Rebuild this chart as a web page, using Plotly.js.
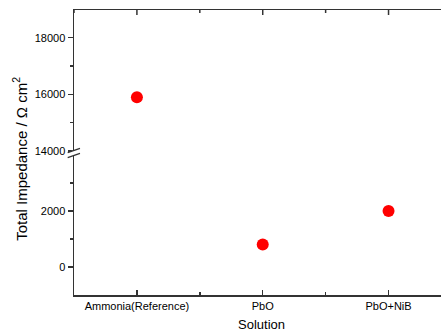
<!DOCTYPE html>
<html>
<head>
<meta charset="utf-8">
<script src="https://cdn.plot.ly/plotly-3.0.1.min.js"></script>
<style>html,body{margin:0;padding:0;background:#fff;}#chart{width:441px;height:332px;}</style>
</head>
<body>
<div id="chart"></div>
<script>
// Data
const categories = ["Ammonia(Reference)", "PbO", "PbO+NiB"];
const impedance = [15900, 800, 2000];
const breakValue = 10000;
const lowerTicks = [0, 2000];
const lowerMinorTicks = [1000, 3000];
const upperTicks = [14000, 16000, 18000];
const upperMinorTicks = [15000, 17000];

const idx = categories.map((_, i) => i);
const lowerY = impedance.map(v => v < breakValue ? v : null);
const upperY = impedance.map(v => v >= breakValue ? v : null);

const font = "Liberation Sans, Arial, sans-serif";
const lineColor = "#333";
const marker = {color: "#ff0000", size: 12, line: {width: 0}};

const traces = [
  {x: idx, y: lowerY, xaxis: "x", yaxis: "y", mode: "markers", marker: marker, hoverinfo: "skip"},
  {x: idx, y: upperY, xaxis: "x2", yaxis: "y2", mode: "markers", marker: marker, hoverinfo: "skip"}
];

const xRange = [-0.5, 2.417];
const xMinor = [-0.5, 0.5, 1.5, 2.5];
const split = 0.5053;
const plotHeight = 332 - 10 - 37;

function yAxisDef(anchor, domain, range, ticks, minorTicks) {
  return {
    anchor: anchor, domain: domain, range: range,
    tickmode: "array", tickvals: ticks, tickformat: "d",
    ticks: "outside", ticklen: 5, tickwidth: 1.5, tickcolor: lineColor,
    minor: {tickmode: "array", tickvals: minorTicks, ticks: "outside", ticklen: 3, tickwidth: 1.5, tickcolor: lineColor},
    showline: true, linecolor: lineColor, linewidth: 1.5,
    showgrid: false, zeroline: false,
    tickfont: {family: font, size: 11, color: "#000"}
  };
}

// top-axis tick marks (mirrors of the x ticks), converted to paper fractions with the x range
const toPaper = v => (v - xRange[0]) / (xRange[1] - xRange[0]);
const tickShape = (v, len) => ({type: "line", xref: "paper", yref: "paper",
  x0: toPaper(v), x1: toPaper(v), y0: 1, y1: 1 - len / plotHeight,
  line: {color: lineColor, width: 1.5}, layer: "above"});
const topTicks = idx.map(v => tickShape(v, 5))
  .concat(xMinor.filter(v => v <= xRange[1]).map(v => tickShape(v, 3)));

const layout = {
  width: 441, height: 332,
  margin: {l: 74, r: 0, t: 10, b: 37},
  paper_bgcolor: "#fff", plot_bgcolor: "rgba(0,0,0,0)",
  showlegend: false,
  font: {family: font, size: 11, color: "#000"},
  xaxis: {
    anchor: "y", side: "bottom", domain: [0, 1], range: xRange,
    tickmode: "array", tickvals: idx, ticktext: categories,
    ticks: "inside", ticklen: 5, tickwidth: 1.5, tickcolor: lineColor,
    minor: {tickmode: "array", tickvals: xMinor, ticks: "inside", ticklen: 3, tickwidth: 1.5, tickcolor: lineColor},
    showline: true, linecolor: lineColor, linewidth: 1.5,
    showgrid: false, zeroline: false,
    tickfont: {family: font, size: 11, color: "#000"}
  },
  xaxis2: {
    anchor: "y2", side: "top", domain: [0, 1], range: xRange,
    tickmode: "array", tickvals: idx, ticks: "", showticklabels: false,
    showline: true, linecolor: lineColor, linewidth: 1.5,
    showgrid: false, zeroline: false
  },
  yaxis: yAxisDef("x", [0, split], [-1000, 4140], lowerTicks, lowerMinorTicks),
  yaxis2: yAxisDef("x2", [split, 1], [14000, 18979], upperTicks, upperMinorTicks),
  shapes: [
    {type: "rect", xref: "paper", yref: "paper", x0: -0.006, x1: 0.006, y0: 0.488, y1: 0.507, fillcolor: "#fff", line: {width: 0}, layer: "above"},
    {type: "line", xref: "paper", yref: "paper", x0: -0.0172, y0: 0.4993, x1: 0.0163, y1: 0.5147, line: {color: lineColor, width: 1.3}, layer: "above"},
    {type: "line", xref: "paper", yref: "paper", x0: -0.0172, y0: 0.4818, x1: 0.0163, y1: 0.4972, line: {color: lineColor, width: 1.3}, layer: "above"}
  ].concat(topTicks),
  annotations: [
    {text: "Total Impedance / Ω cm<sup>2</sup>", xref: "paper", yref: "paper", x: -0.147, y: 0.478,
     textangle: -90, showarrow: false, xanchor: "center", yanchor: "middle",
     font: {family: font, size: 15, color: "#000"}},
    {text: "Solution", xref: "paper", yref: "paper", x: 0.511, y: -0.105,
     showarrow: false, xanchor: "center", yanchor: "middle",
     font: {family: font, size: 13, color: "#000"}}
  ]
};

Plotly.newPlot("chart", traces, layout, {displayModeBar: false, staticPlot: true});
</script>
</body>
</html>
